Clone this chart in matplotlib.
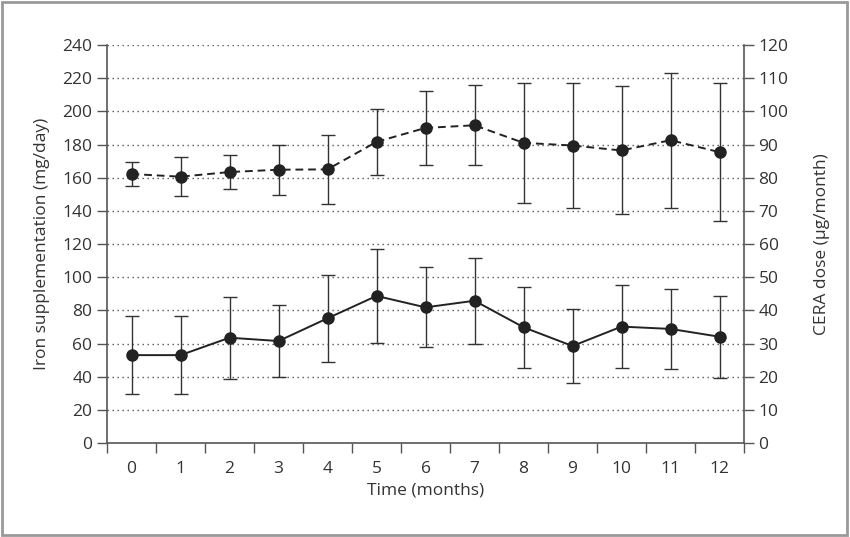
import matplotlib
matplotlib.use("Agg")
import matplotlib.pyplot as plt
from matplotlib.patches import Rectangle

plt.rcParams['font.family'] = ['Open Sans', 'DejaVu Sans']

# data
months = [0, 1, 2, 3, 4, 5, 6, 7, 8, 9, 10, 11, 12]
iron_mean = [53.0, 53.0, 63.5, 61.5, 75.2, 88.7, 81.8, 85.8, 69.8, 58.5, 70.2, 68.8, 64.1]
iron_sd = [23.7, 23.7, 24.6, 21.8, 26.2, 28.5, 24.2, 26.0, 24.4, 22.4, 24.8, 24.0, 24.7]
cera_mean = [81.1, 80.3, 81.7, 82.4, 82.5, 90.8, 95.0, 95.8, 90.5, 89.7, 88.2, 91.3, 87.7]
cera_sd = [3.7, 5.9, 5.2, 7.6, 10.5, 10.0, 11.1, 12.0, 18.1, 18.7, 19.3, 20.4, 20.8]

dark = '#222222'
spine = '#555555'
txt = '#333333'

fig = plt.figure(figsize=(8.5, 5.37), dpi=100)
ax = fig.add_axes([0.1259, 0.175, 0.7494, 0.7412])
ax2 = ax.twinx()

# grid lines (left scale)
for v in range(20, 241, 20):
    ax.axhline(v, color='#555555', lw=1.0, ls=(0, (1, 2.6)), zorder=0)

ax.errorbar(months, iron_mean, yerr=iron_sd, color=dark, lw=1.4, marker='o', ms=8,
            ecolor='#333333', elinewidth=1.0, capsize=5, capthick=1.0, zorder=3)
ax2.errorbar(months, cera_mean, yerr=cera_sd, color=dark, lw=1.4, ls=(0, (4, 2.5)),
             marker='o', ms=8, ecolor='#333333', elinewidth=1.0, capsize=5, capthick=1.0, zorder=3)

ax.set_xlim(-0.5, 12.5)
ax.set_ylim(0, 240)
ax2.set_ylim(0, 120)
ax.set_yticks(range(0, 241, 20))
ax2.set_yticks(range(0, 121, 10))

# tick marks between the months, labels centred under them
ax.set_xticks([m - 0.5 for m in months] + [12.5])
ax.set_xticklabels([])
ax.set_xticks(months, minor=True)
ax.set_xticklabels([str(m) for m in months], minor=True)
ax.tick_params(axis='x', which='minor', length=0, pad=13)
ax.tick_params(axis='x', which='major', length=7, width=1, color=spine)

for a in (ax, ax2):
    a.tick_params(axis='y', length=7, width=1, color=spine, labelsize=12.5, labelcolor=txt)
    a.tick_params(axis='x', labelsize=12.5, labelcolor=txt, which='both')
    a.spines['top'].set_visible(False)
    for s in ('left', 'right', 'bottom'):
        a.spines[s].set_color(spine)
        a.spines[s].set_linewidth(1.2)
ax.spines['right'].set_visible(False)
ax2.spines['left'].set_visible(False)
ax2.spines['bottom'].set_visible(False)

ax.set_xlabel('Time (months)', fontsize=12.5, color=txt, labelpad=4)
ax.set_ylabel('Iron supplementation (mg/day)', fontsize=12.5, color=txt, labelpad=9)
ax2.set_ylabel('CERA dose (µg/month)', fontsize=12.5, color=txt, labelpad=18)

fig.patches.append(Rectangle((0.002, 0.003), 0.995, 0.994, transform=fig.transFigure,
                             fill=False, edgecolor='#999999', lw=2))

fig.savefig('out.png', dpi=100)
